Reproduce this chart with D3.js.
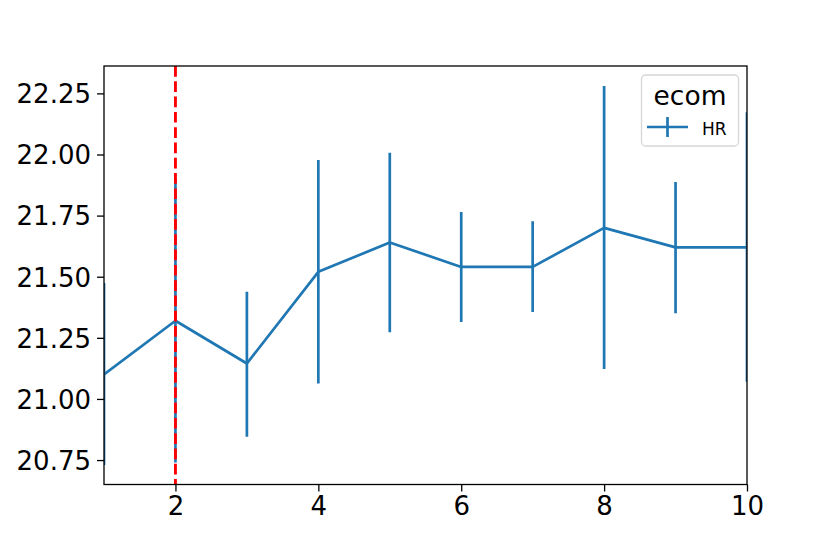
<!DOCTYPE html>
<html><head><meta charset="utf-8">
<script src="https://cdn.jsdelivr.net/npm/d3@7"></script>
<style>body{margin:0;background:#fff}svg{display:block}text{font-family:"DejaVu Sans",sans-serif}</style>
</head><body><svg id="c" width="830" height="554"></svg>
<script>
const xs = [1,2,3,4,5,6,7,8,9,10];
const ys = [21.10,21.32,21.145,21.52,21.64,21.54,21.54,21.70,21.62,21.62];
const lo = [20.73,20.74,20.845,21.063,21.273,21.315,21.356,21.122,21.351,21.07];
const hi = [21.474,21.90,21.438,21.977,22.007,21.765,21.727,22.28,21.887,22.173];
const xTicks = [2,4,6,8,10];
const yTicks = [20.75,21.00,21.25,21.50,21.75,22.00,22.25];
const vline = 2;
const legendTitle = "ecom", seriesName = "HR";

const L=104,R=747,T=66,B=484.5;
const svg=d3.select("#c");
const x=d3.scaleLinear().domain([1,10]).range([L,R]);
const y=d3.scaleLinear().domain([20.65,22.362]).range([B,T]);
const blue="#1f77b4";
svg.append("defs").append("clipPath").attr("id","clip").append("rect")
  .attr("x",L).attr("y",T).attr("width",R-L).attr("height",B-T);
const g=svg.append("g").attr("clip-path","url(#clip)");
xs.forEach((v,i)=>{
  g.append("line").attr("x1",x(v)).attr("x2",x(v)).attr("y1",y(lo[i])).attr("y2",y(hi[i]))
   .attr("stroke",blue).attr("stroke-width",2.7);
});
g.append("path").datum(xs.map((v,i)=>[v,ys[i]]))
 .attr("d",d3.line().x(d=>x(d[0])).y(d=>y(d[1])))
 .attr("fill","none").attr("stroke",blue).attr("stroke-width",2.7).attr("stroke-linejoin","round");
g.append("line").attr("x1",x(vline)).attr("x2",x(vline)).attr("y1",T).attr("y2",B)
 .attr("stroke","red").attr("stroke-width",2.9).attr("stroke-dasharray","10.7,4.6");

const xa=svg.append("g").attr("transform",`translate(0,${B})`)
 .call(d3.axisBottom(x).tickValues(xTicks).tickSize(7).tickPadding(5).tickFormat(d3.format("d")));
const ya=svg.append("g").attr("transform",`translate(${L},0)`)
 .call(d3.axisLeft(y).tickValues(yTicks).tickSize(7).tickPadding(6).tickFormat(d3.format(".2f")));
[xa,ya].forEach(a=>{a.select(".domain").remove();
  a.selectAll("text").attr("font-size",26).attr("fill","#000").style("font-family","DejaVu Sans");
  a.selectAll("line").attr("stroke","#000").attr("stroke-width",1.3);});
ya.selectAll("text").attr("dy","0.36em");
svg.append("rect").attr("x",L).attr("y",T).attr("width",R-L).attr("height",B-T)
 .attr("fill","none").attr("stroke","#000").attr("stroke-width",1.3);

// legend
const lg=svg.append("g");
lg.append("rect").attr("x",641.5).attr("y",75).attr("width",97).attr("height",71).attr("rx",4)
 .attr("fill","#fff").attr("fill-opacity",0.8).attr("stroke","#d6d6d6").attr("stroke-width",1.3);
lg.append("text").attr("x",690).attr("y",105).attr("text-anchor","middle").attr("font-size",26.5).text(legendTitle);
lg.append("line").attr("x1",647).attr("x2",688).attr("y1",127).attr("y2",127).attr("stroke",blue).attr("stroke-width",2.7);
lg.append("line").attr("x1",667.5).attr("x2",667.5).attr("y1",117).attr("y2",137).attr("stroke",blue).attr("stroke-width",2.7);
lg.append("text").attr("x",702).attr("y",135).attr("font-size",17).text(seriesName);
</script></body></html>
